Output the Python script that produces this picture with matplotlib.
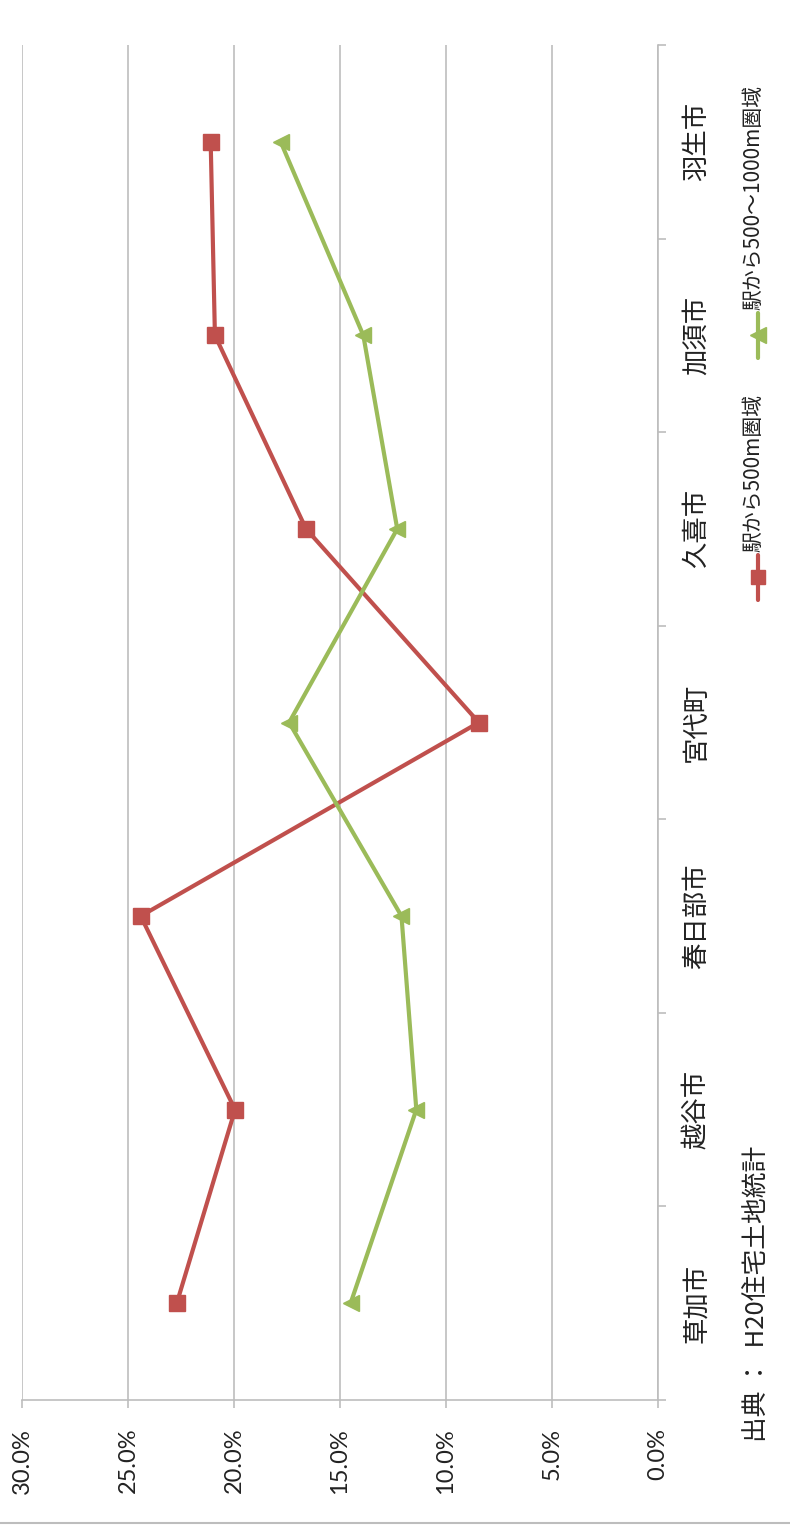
import numpy as np
import matplotlib.pyplot as plt

plt.rcParams['font.family'] = ['Noto Sans CJK JP', 'DejaVu Sans']

# share of housing by distance from the nearest station (%)
cities = ['草加市', '越谷市', '春日部市', '宮代町', '久喜市', '加須市', '羽生市']
within_500 = [22.7, 19.95, 24.4, 8.45, 16.6, 20.9, 21.1]
within_500_1000 = [14.5, 11.4, 12.1, 17.4, 12.3, 13.9, 17.8]
series_names = ['駅から500m圏域', '駅から500～1000m圏域']
value_ticks = [0, 5, 10, 15, 20, 25, 30]
source_note = '出典 ：  H20住宅土地統計'

RED = '#C0504D'
GREEN = '#9BBB59'
GRID = '#BDBDBD'

W, H = 790, 1530
fig = plt.figure(figsize=(W / 100, H / 100), dpi=100)

# the chart is laid out turned on its side: categories run up, values run left
ax = fig.add_axes([22 / W, 1 - 1400 / H, (658 - 22) / W, (1400 - 45) / H])
pos = np.arange(len(cities)) + 0.5
ax.plot(within_500, pos, color=RED, lw=3, marker='s', ms=11, zorder=3)
ax.plot(within_500_1000, pos, color=GREEN, lw=3, marker='<', ms=12, zorder=3)

ax.set_xlim(max(value_ticks), 0)
ax.set_ylim(0, len(cities))
ax.set_xticks(value_ticks)
ax.set_xticklabels([f'{v:.1f}%' for v in value_ticks], rotation=90,
                   fontsize=17, family=['Lato', 'DejaVu Sans'], color='#222222')
ax.xaxis.grid(True, color=GRID, lw=1.2)
ax.set_axisbelow(True)
ax.tick_params(axis='x', length=6, width=1.2, color=GRID, pad=14)

ax.yaxis.tick_right()
ax.set_yticks(np.arange(len(cities) + 1))
ax.set_yticklabels([])
ax.set_yticks(pos, minor=True)
ax.set_yticklabels(cities, minor=True, rotation=90, fontsize=19,
                   va='center', color='#222222')
ax.tick_params(axis='y', which='major', length=6, width=1.2, color=GRID)
ax.tick_params(axis='y', which='minor', length=0, pad=18)

for side in ('top', 'left'):
    ax.spines[side].set_visible(False)
for side in ('right', 'bottom'):
    ax.spines[side].set_color(GRID)
    ax.spines[side].set_linewidth(1.2)

# legend, source and frame drawn in pixel space
ov = fig.add_axes([0, 0, 1, 1])
ov.set_xlim(0, W)
ov.set_ylim(H, 0)
ov.axis('off')

lx = 758
for color, marker, ms, (y0, y1), ym, ty, name in [
    (RED, 's', 10, (600, 555), 577, 552, series_names[0]),
    (GREEN, '<', 11, (358, 313), 335, 310, series_names[1]),
]:
    ov.plot([lx, lx], [y0, y1], color=color, lw=3, solid_capstyle='round')
    ov.plot([lx], [ym], color=color, marker=marker, ms=ms)
    ov.text(lx - 5, ty, name, rotation=90, ha='center', va='bottom',
            fontsize=15, color='#222222')

ov.text(757, 1442, source_note, rotation=90, ha='center', va='bottom',
        fontsize=18.5, color='#222222')
ov.plot([0, W], [1523, 1523], color=GRID, lw=1.5)

fig.savefig('out.png', dpi=100)
